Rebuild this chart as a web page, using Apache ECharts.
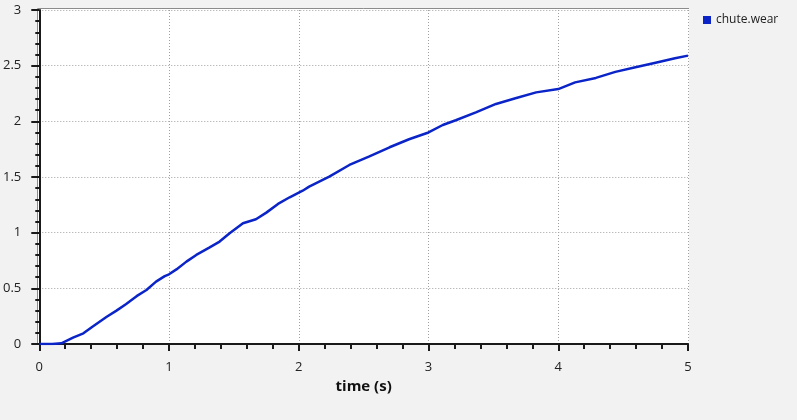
<!DOCTYPE html>
<html>
<head>
<meta charset="utf-8">
<script src="https://cdn.jsdelivr.net/npm/echarts@6/dist/echarts.min.js"></script>
<style>
    html, body { margin: 0; padding: 0; background: #f2f2f2; }
    #main { width: 797px; height: 420px; }
</style>
</head>
<body>
<div id="main"></div>
<script type="text/javascript">
    // values
    var times = [0, 0.10, 0.17, 0.26, 0.34, 0.415, 0.52, 0.595, 0.67, 0.75, 0.826, 0.90, 0.967, 1.0,
        1.057, 1.134, 1.21, 1.31, 1.39, 1.467, 1.57, 1.67, 1.75, 1.84, 1.93, 2.03, 2.08, 2.235,
        2.39, 2.54, 2.70, 2.85, 3.0, 3.11, 3.21, 3.365, 3.52, 3.67, 3.83, 4.0, 4.13, 4.29, 4.44,
        4.595, 4.75, 4.90, 5.0];
    var wear = [0, 0, 0.006, 0.057, 0.096, 0.16, 0.245, 0.30, 0.36, 0.43, 0.485, 0.56, 0.61, 0.626,
        0.67, 0.74, 0.80, 0.865, 0.92, 0.995, 1.084, 1.12, 1.18, 1.258, 1.318, 1.377, 1.413, 1.503,
        1.608, 1.683, 1.767, 1.839, 1.90, 1.967, 2.01, 2.08, 2.156, 2.207, 2.26, 2.29, 2.35, 2.39, 2.444,
        2.486, 2.527, 2.567, 2.59];
    var seriesName = 'chute.wear';
    var xTitle = 'time (s)';

    var points = times.map(function (t, i) { return [t, wear[i]]; });

    var myChart = echarts.init(document.getElementById('main'));

    var font = '"Open Sans", "Noto Sans", sans-serif';

    var option = {
        backgroundColor: '#f2f2f2',
        animation: false,
        textStyle: { fontFamily: font },
        // white plot area with grey top/left border
        graphic: [
            { type: 'rect', shape: { x: 37, y: 8, width: 652, height: 337 }, style: { fill: '#ffffff' }, z: -1 },
            { type: 'line', shape: { x1: 37.5, y1: 8.5, x2: 689, y2: 8.5 }, style: { stroke: '#8c8c8c', lineWidth: 1 }, z: -1 },
            { type: 'line', shape: { x1: 37.5, y1: 8.5, x2: 37.5, y2: 345 }, style: { stroke: '#8c8c8c', lineWidth: 1 }, z: -1 }
        ],
        grid: { left: 39, right: 109, top: 10, bottom: 76 },
        legend: {
            left: 698, top: 9,
            icon: 'rect', itemWidth: 8, itemHeight: 8, itemGap: 5,
            textStyle: { fontSize: 12, color: '#222', fontFamily: font },
            data: [seriesName]
        },
        xAxis: {
            type: 'value', min: 0, max: 5, interval: 1,
            offset: 5,
            name: xTitle, nameLocation: 'middle', nameGap: 29,
            nameTextStyle: { fontSize: 15, fontWeight: 'bold', color: '#111', fontFamily: font },
            axisLine: { show: true, lineStyle: { color: '#1a1a1a', width: 2 } },
            axisTick: { show: true, length: 7, lineStyle: { color: '#1a1a1a', width: 2 } },
            minorTick: { show: true, splitNumber: 5, length: 5, lineStyle: { color: '#1a1a1a', width: 2 } },
            axisLabel: { margin: 12, fontSize: 13, color: '#222' },
            splitLine: { show: true, lineStyle: { color: '#a0a0a0', type: [1, 2], width: 1 } }
        },
        yAxis: {
            type: 'value', min: 0, max: 3, interval: 0.5,
            offset: 5,
            axisLine: { show: true, lineStyle: { color: '#1a1a1a', width: 2 } },
            axisTick: { show: true, length: 8, lineStyle: { color: '#1a1a1a', width: 2 } },
            minorTick: { show: true, splitNumber: 5, length: 4, lineStyle: { color: '#1a1a1a', width: 2 } },
            axisLabel: { margin: 13, fontSize: 13, color: '#222' },
            splitLine: { show: true, lineStyle: { color: '#a0a0a0', type: [1, 2], width: 1 } }
        },
        series: [
            {
                name: seriesName,
                type: 'line',
                data: points,
                showSymbol: false,
                color: '#0a24c8',
                lineStyle: { width: 2.5, color: '#0a24c8' }
            }
        ]
    };

    myChart.setOption(option);
</script>
</body>
</html>
